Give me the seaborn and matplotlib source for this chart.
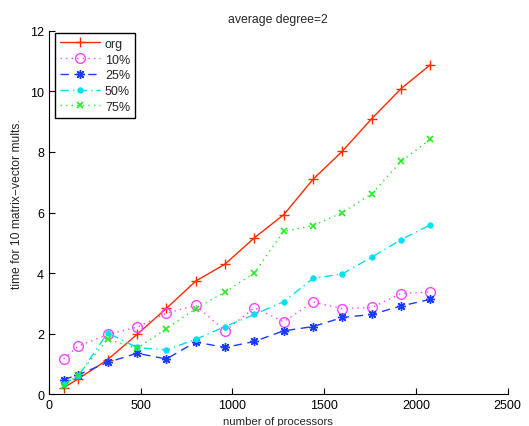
import matplotlib
matplotlib.use("Agg")
import matplotlib.pyplot as plt
import seaborn as sns
import pandas as pd

processors = [80, 160, 320, 480, 640, 800, 960, 1120, 1280, 1440, 1600, 1760, 1920, 2080]
t_org = [0.22, 0.52, 1.15, 1.98, 2.84, 3.74, 4.30, 5.17, 5.93, 7.10, 8.03, 9.10, 10.09, 10.88]
t_10 = [1.17, 1.60, 1.98, 2.22, 2.68, 2.94, 2.10, 2.86, 2.40, 3.05, 2.83, 2.87, 3.33, 3.38]
t_25 = [0.49, 0.65, 1.06, 1.36, 1.17, 1.73, 1.55, 1.75, 2.10, 2.24, 2.54, 2.64, 2.92, 3.14]
t_50 = [0.34, 0.62, 2.03, 1.55, 1.47, 1.82, 2.24, 2.64, 3.06, 3.83, 3.98, 4.53, 5.11, 5.60]
t_75 = [0.27, 0.65, 1.82, 1.52, 2.17, 2.83, 3.38, 4.01, 5.38, 5.57, 6.00, 6.62, 7.69, 8.42]
series_names = ["org", "10%", "25%", "50%", "75%"]

frames = []
for name, vals in zip(series_names, [t_org, t_10, t_25, t_50, t_75]):
    frames.append(pd.DataFrame({"processors": processors, "time": vals, "series": name}))
df = pd.concat(frames, ignore_index=True)

# line / marker style per series (asterisk drawn as an 8-spoke star)
styles = {
    "org": dict(color="#ff2a00", linestyle="-", marker="+", markersize=7.5, mfc="none", mew=1.0),
    "10%": dict(color="#ff44ff", linestyle=(0, (1, 3)), marker="o", markersize=7, mfc="none", mew=1.0),
    "25%": dict(color="#1a3cff", linestyle=(0, (6, 4)), marker=(8, 2, 0), markersize=6.5, mfc="#1a3cff", mew=1.0),
    "50%": dict(color="#00e0f0", linestyle=(0, (6, 3, 1, 3)), marker=".", markersize=8, mfc="#00e0f0", mew=0.5),
    "75%": dict(color="#22ee22", linestyle=(0, (1, 3)), marker="x", markersize=5, mfc="none", mew=1.2),
}

sns.set_theme(style="ticks")
plt.rcParams["font.family"] = ["Liberation Sans", "DejaVu Sans"]

fig = plt.figure(figsize=(5.29, 4.27), dpi=100)
ax = fig.add_axes([0.0926, 0.0738, 0.8668, 0.852])

for name in series_names:
    st = styles[name]
    sns.lineplot(
        data=df[df["series"] == name], x="processors", y="time", ax=ax,
        color=st["color"], linestyle=st["linestyle"], marker=st["marker"],
        markersize=st["markersize"], markerfacecolor=st["mfc"],
        markeredgecolor=st["color"], markeredgewidth=st["mew"],
        linewidth=1.0, label=name, estimator=None,
    )

ax.set_xlim(0, 2500)
ax.set_ylim(0, 12)
ax.set_xticks([0, 500, 1000, 1500, 2000, 2500])
ax.set_yticks([0, 2, 4, 6, 8, 10, 12])
ax.tick_params(direction="in", length=4, width=0.8, labelsize=9, colors="black")
for side in ["top", "right"]:
    ax.spines[side].set_visible(False)
for side in ["left", "bottom"]:
    ax.spines[side].set_color("black")
    ax.spines[side].set_linewidth(0.8)

ax.set_title("average degree=2", fontsize=8.8, pad=6.5)
ax.set_xlabel("number of processors", fontsize=8.2, labelpad=3.5)
ax.set_ylabel("time for 10 matrix\u2212vector mults.", fontsize=8.7)
ax.yaxis.set_label_coords(-0.056, 0.525)

leg = ax.legend(loc="upper left", bbox_to_anchor=(0.013, 0.994), borderaxespad=0,
                fontsize=9, frameon=True, fancybox=False, framealpha=1, edgecolor="black",
                handlelength=3.2, borderpad=0.4, labelspacing=0.3, handletextpad=0.4)
leg.get_frame().set_linewidth(1.0)

fig.savefig("out.png", dpi=100)
